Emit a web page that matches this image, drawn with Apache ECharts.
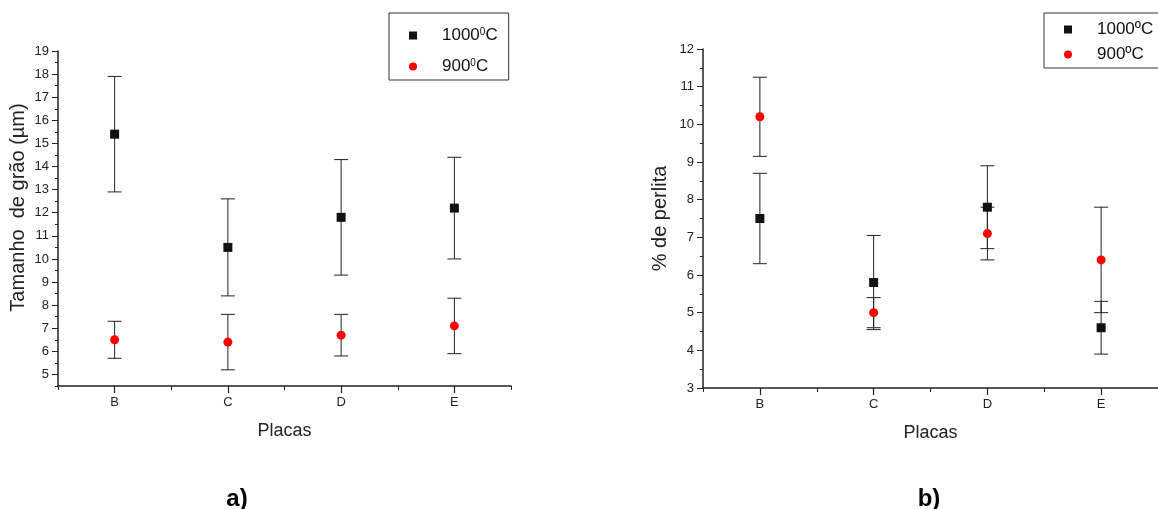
<!DOCTYPE html>
<html>
<head>
<meta charset="utf-8">
<script src="https://cdn.jsdelivr.net/npm/echarts@6/dist/echarts.min.js"></script>
<style>
  html, body { margin: 0; padding: 0; background: #fff; }
  #main { width: 1158px; height: 509px; }
</style>
</head>
<body>
<div id="main"></div>
<script>
// placas
var categories = ['B', 'C', 'D', 'E'];

// a) tamanho de grão (µm)
var grao1000 = [15.4, 10.5, 11.8, 12.2];
var grao1000Low = [12.9, 8.4, 9.3, 10.0];
var grao1000High = [17.9, 12.6, 14.3, 14.4];
var grao900 = [6.5, 6.4, 6.7, 7.1];
var grao900Low = [5.7, 5.2, 5.8, 5.9];
var grao900High = [7.3, 7.6, 7.6, 8.3];
var graoTicks = [5, 6, 7, 8, 9, 10, 11, 12, 13, 14, 15, 16, 17, 18, 19];

// b) % de perlita
var perlita1000 = [7.5, 5.8, 7.8, 4.6];
var perlita1000Low = [6.3, 4.55, 6.7, 3.9];
var perlita1000High = [8.7, 7.05, 8.9, 5.3];
var perlita900 = [10.2, 5.0, 7.1, 6.4];
var perlita900Low = [9.15, 4.6, 6.4, 5.0];
var perlita900High = [11.25, 5.4, 7.8, 7.8];

var FONT = 'Liberation Sans, Arial, sans-serif';
var INK = '#222';

function errData(low, high) {
    var out = [];
    for (var i = 0; i < low.length; i++) {
        out.push([i, low[i], high[i]]);
    }
    return out;
}

function renderError(params, api) {
    var top = api.coord([api.value(0), api.value(2)]);
    var bot = api.coord([api.value(0), api.value(1)]);
    var hw = 7;
    var style = { stroke: '#222', lineWidth: 1 };
    return {
        type: 'group',
        children: [
            { type: 'line', shape: { x1: top[0], y1: top[1], x2: bot[0], y2: bot[1] }, style: style },
            { type: 'line', shape: { x1: top[0] - hw, y1: top[1], x2: top[0] + hw, y2: top[1] }, style: style },
            { type: 'line', shape: { x1: bot[0] - hw, y1: bot[1], x2: bot[0] + hw, y2: bot[1] }, style: style }
        ]
    };
}

function xAxes(gridIndex) {
    return [
        {
            type: 'category', gridIndex: gridIndex, data: categories, position: 'bottom',
            name: 'Placas', nameLocation: 'middle', nameGap: 36,
            nameTextStyle: { fontFamily: FONT, fontSize: 18, color: INK },
            axisLine: { show: true, onZero: false, lineStyle: { color: INK, width: 1.5 } },
            axisTick: { show: true, alignWithLabel: true, length: 7, lineStyle: { color: INK, width: 1.2 } },
            axisLabel: { fontFamily: FONT, fontSize: 13, color: INK, margin: 10 },
            splitLine: { show: false }
        },
        {
            // small ticks on the category boundaries
            type: 'category', gridIndex: gridIndex, data: categories, position: 'bottom',
            axisLine: { show: false, onZero: false },
            axisTick: { show: true, length: 4, lineStyle: { color: INK, width: 1 } },
            axisLabel: { show: false },
            splitLine: { show: false }
        }
    ];
}

var nameStyle = { fontFamily: FONT, fontSize: 20, color: INK };
var labelStyle = { fontFamily: FONT, fontSize: 13, color: INK, margin: 9 };

var supRich = {
    t: { fontFamily: FONT, fontSize: 17, color: '#111', lineHeight: 16, padding: [0, 0, 0, 20] },
    n: { fontFamily: FONT, fontSize: 17, color: '#111', lineHeight: 16 },
    s: { fontFamily: FONT, fontSize: 10, color: '#111', lineHeight: 16, verticalAlign: 'top' }
};

var option = {
    backgroundColor: '#fff',
    animation: false,
    title: [
        { text: 'a)', left: 232, top: 482, textAlign: 'center',
          textStyle: { fontFamily: FONT, fontSize: 24, fontWeight: 'bold', color: '#000' } },
        { text: 'b)', left: 924, top: 482, textAlign: 'center',
          textStyle: { fontFamily: FONT, fontSize: 24, fontWeight: 'bold', color: '#000' } }
    ],
    legend: [
        {
            data: ['a1000', 'a900'], orient: 'vertical', left: 389, top: 13,
            padding: [14, 11, 5, 20], itemGap: 14, itemWidth: 8, itemHeight: 8,
            borderColor: '#333', borderWidth: 1,
            formatter: function (name) {
                return name === 'a1000' ? '{t|1000}{s|0}{n|C}' : '{t|900}{s|0}{n|C}';
            },
            textStyle: { rich: supRich }
        },
        {
            data: ['b1000', 'b900'], orient: 'vertical', left: 1044, top: 13,
            padding: [8, 30, 5, 20], itemGap: 8, itemWidth: 8, itemHeight: 8,
            borderColor: '#333', borderWidth: 1,
            formatter: function (name) {
                return name === 'b1000' ? '{t|1000ºC}' : '{t|900ºC}';
            },
            textStyle: { rich: supRich }
        }
    ],
    grid: [
        { left: 58, top: 51, right: 647, bottom: 123 },
        { left: 703, top: 49, right: -5, bottom: 121 }
    ],
    xAxis: xAxes(0).concat(xAxes(1)),
    yAxis: [
        {
            type: 'value', gridIndex: 0, position: 'left', min: 4.5, max: 19, interval: 0.5,
            name: 'Tamanho  de grão (\u00b5m)', nameLocation: 'middle', nameGap: 30,
            nameTextStyle: Object.assign({ padding: [0, 0, 0, 22] }, nameStyle),
            axisLine: { show: true, lineStyle: { color: INK, width: 1.5 } },
            axisTick: { show: true, length: 6, customValues: graoTicks, lineStyle: { color: INK } },
            axisLabel: Object.assign({ customValues: graoTicks }, labelStyle),
            splitLine: { show: false }
        },
        {
            // half-unit minor ticks
            type: 'value', gridIndex: 0, position: 'left', min: 4.5, max: 19, interval: 0.5,
            axisLine: { show: false },
            axisTick: { show: true, length: 3, lineStyle: { color: INK } },
            axisLabel: { show: false },
            splitLine: { show: false }
        },
        {
            type: 'value', gridIndex: 1, position: 'left', min: 3, max: 12, interval: 1,
            name: '% de perlita', nameLocation: 'middle', nameGap: 33,
            nameTextStyle: nameStyle,
            axisLine: { show: true, lineStyle: { color: INK, width: 1.5 } },
            axisTick: { show: true, length: 6, lineStyle: { color: INK } },
            minorTick: { show: true, splitNumber: 2, length: 3, lineStyle: { color: INK } },
            axisLabel: labelStyle,
            splitLine: { show: false }
        }
    ],
    series: [
        { type: 'custom', xAxisIndex: 0, yAxisIndex: 0, renderItem: renderError,
          data: errData(grao1000Low, grao1000High), z: 1 },
        { type: 'custom', xAxisIndex: 0, yAxisIndex: 0, renderItem: renderError,
          data: errData(grao900Low, grao900High), z: 1 },
        { name: 'a1000', type: 'scatter', xAxisIndex: 0, yAxisIndex: 0, data: grao1000,
          symbol: 'rect', symbolSize: 9, itemStyle: { color: '#111', opacity: 1 }, z: 3 },
        { name: 'a900', type: 'scatter', xAxisIndex: 0, yAxisIndex: 0, data: grao900,
          symbol: 'circle', symbolSize: 9, itemStyle: { color: '#ff0000', opacity: 1 }, z: 3 },

        { type: 'custom', xAxisIndex: 2, yAxisIndex: 2, renderItem: renderError,
          data: errData(perlita1000Low, perlita1000High), z: 1 },
        { type: 'custom', xAxisIndex: 2, yAxisIndex: 2, renderItem: renderError,
          data: errData(perlita900Low, perlita900High), z: 1 },
        { name: 'b1000', type: 'scatter', xAxisIndex: 2, yAxisIndex: 2, data: perlita1000,
          symbol: 'rect', symbolSize: 9, itemStyle: { color: '#111', opacity: 1 }, z: 3 },
        { name: 'b900', type: 'scatter', xAxisIndex: 2, yAxisIndex: 2, data: perlita900,
          symbol: 'circle', symbolSize: 9, itemStyle: { color: '#ff0000', opacity: 1 }, z: 3 }
    ]
};

var chart = echarts.init(document.getElementById('main'));
chart.setOption(option);
window.addEventListener('resize', chart.resize);
</script>
</body>
</html>
